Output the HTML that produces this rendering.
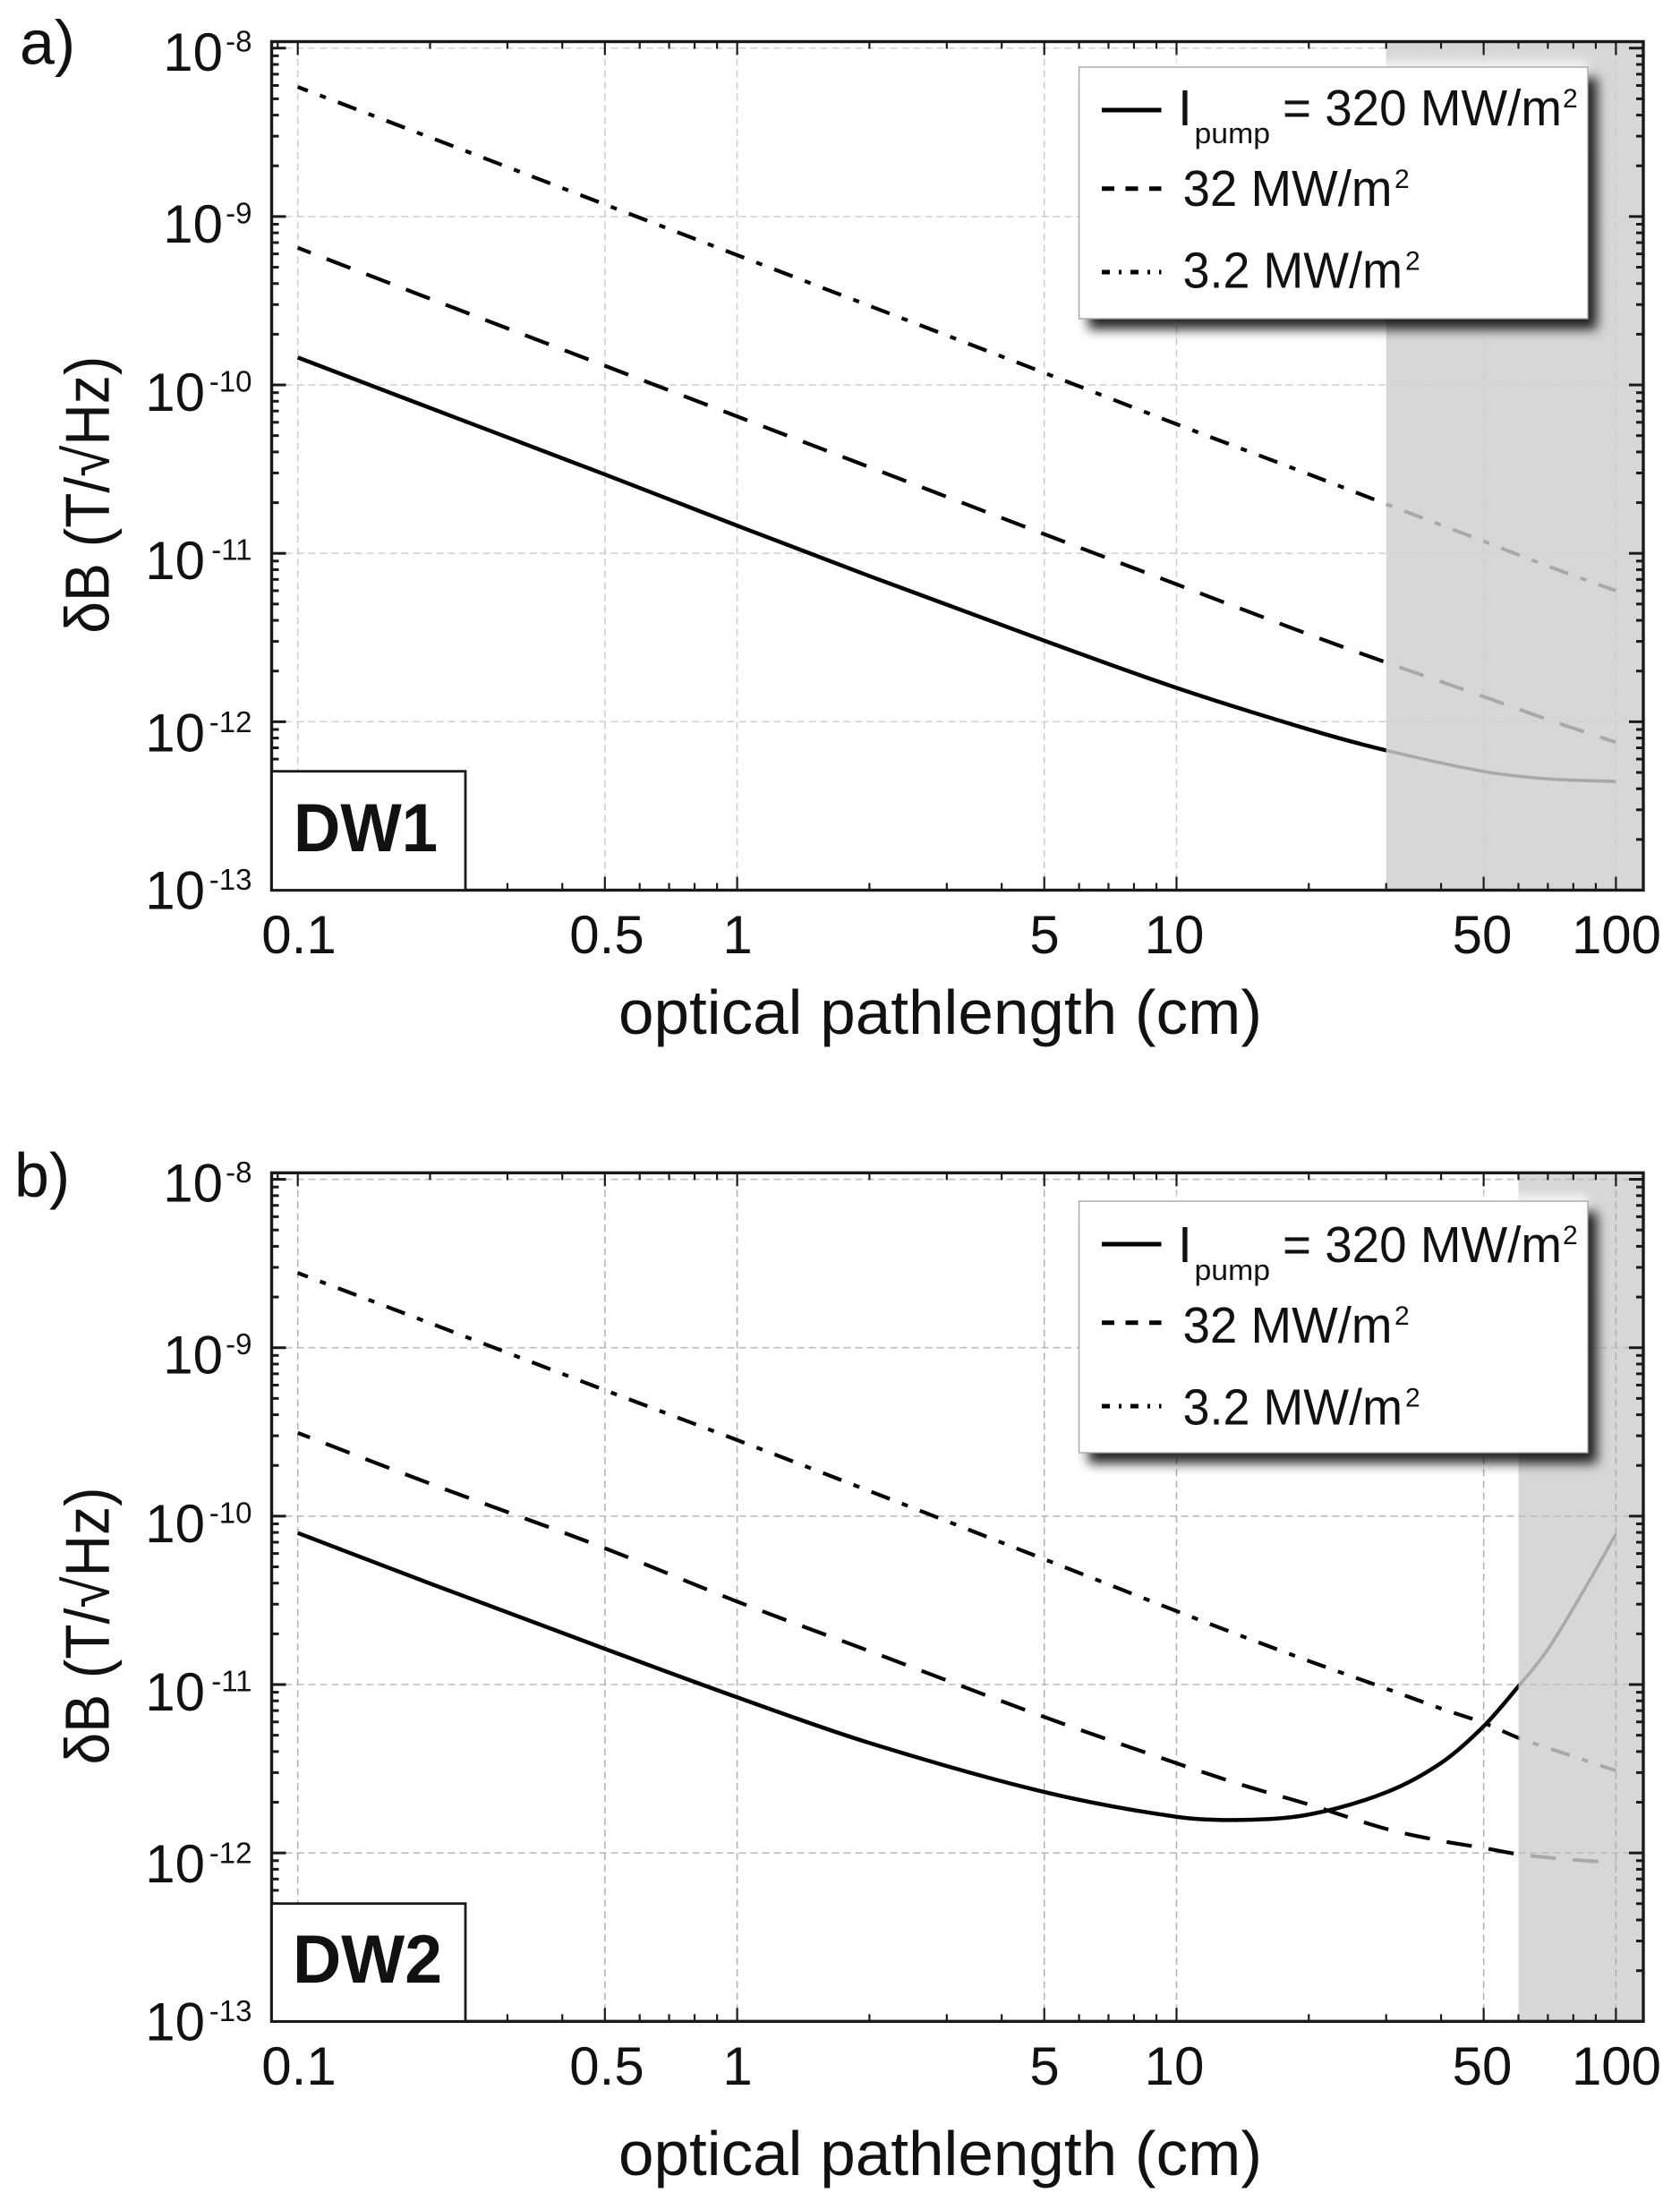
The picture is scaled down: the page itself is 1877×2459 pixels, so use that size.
<!DOCTYPE html>
<html>
<head>
<meta charset="utf-8">
<title>Magnetic sensitivity vs optical pathlength</title>
<style>
html,body{margin:0;padding:0;background:#fff;}
svg{display:block;}
text{font-family:"Liberation Sans","DejaVu Sans",sans-serif;fill:#111;}
</style>
</head>
<body>
<svg id="figure" xmlns="http://www.w3.org/2000/svg" width="1877" height="2459" viewBox="0 0 1877 2459">
  <defs>
    <filter id="legendShadow" x="-15%" y="-20%" width="130%" height="145%">
      <feGaussianBlur stdDeviation="6.5"/>
    </filter>
    <filter id="legendGlow" x="-10%" y="-20%" width="120%" height="140%">
      <feGaussianBlur stdDeviation="5"/>
    </filter>
  </defs>
</svg>
<script>
// ---- Chart data ----
const xTickValues = [0.1, 0.5, 1, 5, 10, 50, 100];
const xTickLabels = ["0.1", "0.5", "1", "5", "10", "50", "100"];
const yTickExponents = [-8, -9, -10, -11, -12, -13];

const pathlengthA = [0.1, 0.2, 0.5, 1, 2, 5, 10, 20, 30, 50, 70, 100];
const dw1Pump320 = [1.455e-10, 7.3e-11, 2.94e-11, 1.46e-11, 7.33e-12, 3.03e-12, 1.59e-12, 9.0e-13, 6.76e-13, 5.07e-13, 4.58e-13, 4.42e-13];
const dw1Pump32 = [6.52e-10, 3.25e-10, 1.3e-10, 6.5e-11, 3.25e-11, 1.3e-11, 6.55e-12, 3.3e-12, 2.25e-12, 1.41e-12, 1.03e-12, 7.55e-13];
const dw1Pump3p2 = [5.88e-9, 2.95e-9, 1.18e-9, 5.9e-10, 2.95e-10, 1.18e-10, 5.85e-11, 2.95e-11, 1.96e-11, 1.18e-11, 8.4e-12, 6.0e-12];
const dw1BandStart = 30;

const pathlengthB = [0.1, 0.2, 0.5, 1, 2, 5, 10, 14, 20, 30, 40, 50, 60, 70, 85, 100];
const dw2Pump320 = [7.94e-11, 3.98e-11, 1.63e-11, 8.4e-12, 4.5e-12, 2.3e-12, 1.64e-12, 1.57e-12, 1.69e-12, 2.29e-12, 3.42e-12, 5.65e-12, 9.77e-12, 1.62e-11, 3.72e-11, 7.84e-11];
const dw2Pump32 = [3.12e-10, 1.56e-10, 6.45e-11, 3.11e-11, 1.58e-11, 6.42e-12, 3.41e-12, 2.55e-12, 1.94e-12, 1.39e-12, 1.18e-12, 1.07e-12, 9.82e-13, 9.4e-13, 9.0e-13, 8.76e-13];
const dw2Pump3p2 = [2.78e-9, 1.4e-9, 5.6e-10, 2.83e-10, 1.41e-10, 5.55e-11, 2.73e-11, 1.95e-11, 1.38e-11, 9.46e-12, 7.2e-12, 5.92e-12, 4.82e-12, 4.2e-12, 3.55e-12, 3.08e-12];
const dw2BandStart = 60;

// ---- Layout ----
const NS = "http://www.w3.org/2000/svg";
const svg = document.getElementById("figure");
const LEFT = 303.5, RIGHT = 1836;
const X_AT_01 = 332.7, X_DECADE = 490.9;
const Y_DECADE = 188.15;

function xScale(v) { return X_AT_01 + (Math.log10(v) + 1) * X_DECADE; }

function node(parent, tag, attrs) {
  const el = document.createElementNS(NS, tag);
  for (const k in attrs) el.setAttribute(k, attrs[k]);
  parent.appendChild(el);
  return el;
}
function label(parent, name, x, y, str, size, opts) {
  const el = document.createElementNS(NS, "text");
  
  
  el.setAttribute("x", x);
  el.setAttribute("y", y);
  el.setAttribute("font-size", size);
  const o = opts || {};
  if (o.anchor) el.setAttribute("text-anchor", o.anchor);
  if (o.bold) el.setAttribute("font-weight", "bold");
  if (o.len) { el.setAttribute("textLength", o.len); el.setAttribute("lengthAdjust", "spacingAndGlyphs"); }
  if (o.transform) el.setAttribute("transform", o.transform);
  el.textContent = str;
  parent.appendChild(el);
  return el;
}
function segment(parent, name, x1, y1, x2, y2, color, width, dash) {
  const el = document.createElementNS(NS, "line");
  
  
  el.setAttribute("x1", x1); el.setAttribute("y1", y1);
  el.setAttribute("x2", x2); el.setAttribute("y2", y2);
  el.setAttribute("stroke", color);
  el.setAttribute("stroke-width", width);
  if (dash) el.setAttribute("stroke-dasharray", dash);
  parent.appendChild(el);
  return el;
}
// Smooth curve in log-log pixel space, through the data points
function curvePath(xs, ys, xf, yf) {
  const px = xs.map(xf), py = ys.map(yf), n = px.length;
  const m = px.map(function (_, i) {
    if (i === 0) return (py[1] - py[0]) / (px[1] - px[0]);
    if (i === n - 1) return (py[n - 1] - py[n - 2]) / (px[n - 1] - px[n - 2]);
    return (py[i + 1] - py[i - 1]) / (px[i + 1] - px[i - 1]);
  });
  let d = "M" + px[0].toFixed(2) + " " + py[0].toFixed(2);
  for (let i = 0; i < n - 1; i++) {
    const h = (px[i + 1] - px[i]) / 3;
    d += "C" + (px[i] + h).toFixed(2) + " " + (py[i] + m[i] * h).toFixed(2) + " " +
      (px[i + 1] - h).toFixed(2) + " " + (py[i + 1] - m[i + 1] * h).toFixed(2) + " " +
      px[i + 1].toFixed(2) + " " + py[i + 1].toFixed(2);
  }
  return d;
}
function labelDrop(exp) {
  if (exp === -8) return 25;
  if (exp === -12) return 33;
  if (exp === -13) return 21;
  return 29;
}

function drawPanel(cfg) {
  const g = node(svg, "g", {});
  
  
  const off = cfg.offset;
  const TOP = 46.5 + off, BOTTOM = 994.5 + off;
  const yScale = function (v) { return BOTTOM - (Math.log10(v) + 13) * Y_DECADE; };
  const bandX = xScale(cfg.band);

  // excluded region band
  const band = node(g, "rect", { x: bandX, y: TOP, width: RIGHT - bandX, height: BOTTOM - TOP, fill: "#d7d7d7" });
  
  

  // grid
  yTickExponents.forEach(function (e) {
    if (e === -13) return;
    const y = yScale(Math.pow(10, e));
    segment(g, "y-gridline", LEFT + 15, y, RIGHT - 15, y, cfg.gridH, 1.6, "8 5");
  });
  xTickValues.forEach(function (v) {
    const x = xScale(v);
    segment(g, "x-gridline", x, TOP + 6, x, BOTTOM - 6, cfg.gridV, 1.5, "8 5");
  });

  // clips
  const clipA = cfg.id + "-clip-in", clipB = cfg.id + "-clip-out";
  const c1 = node(svg.querySelector("defs"), "clipPath", { id: clipA });
  node(c1, "rect", { x: LEFT, y: TOP, width: bandX - LEFT, height: BOTTOM - TOP });
  const c2 = node(svg.querySelector("defs"), "clipPath", { id: clipB });
  node(c2, "rect", { x: bandX, y: TOP, width: RIGHT - bandX, height: BOTTOM - TOP });

  // series
  cfg.series.forEach(function (s) {
    const d = curvePath(cfg.x, s.values, xScale, yScale);
    const dark = node(g, "path", { d: d, fill: "none", stroke: "#030303", "stroke-width": s.dash ? 4.2 : 4.5, "clip-path": "url(#" + clipA + ")" });
    
    
    const light = node(g, "path", { d: d, fill: "none", stroke: "#a9a9a9", "stroke-width": s.dash ? 4 : 3.6, "clip-path": "url(#" + clipB + ")" });
    
    
    if (s.dash) {
      [dark, light].forEach(function (p) {
        p.setAttribute("stroke-dasharray", s.dash);
        p.setAttribute("stroke-dashoffset", s.phase);
      });
    }
  });

  // y ticks
  for (let e = -13; e <= -8; e++) {
    for (let m = 1; m <= 9; m++) {
      if (e === -8 && m > 1) break;
      if (e === -13 && m === 1) continue;
      const y = yScale(m * Math.pow(10, e));
      const len = m === 1 ? 16 : 8;
      segment(g, "y-tick-left", LEFT, y, LEFT + len, y, "#1a1a1a", 3);
      segment(g, "y-tick-right", RIGHT, y, RIGHT - len, y, "#1a1a1a", 3);
    }
  }
  // x ticks
  const xMinor = [0.09];
  [0.1, 1, 10].forEach(function (d) {
    for (let m = 1; m <= 9; m++) xMinor.push(d * m);
  });
  xMinor.push(100);
  xMinor.forEach(function (v) {
    const major = xTickValues.some(function (t) { return Math.abs(t - v) < 1e-6; });
    const len = major ? 15 : 8;
    const x = xScale(v);
    segment(g, "x-tick-top", x, TOP, x, TOP + len, "#1a1a1a", 2.2);
    segment(g, "x-tick-bottom", x, BOTTOM, x, BOTTOM - len, "#1a1a1a", 2.2);
  });

  // frame
  const frame = node(g, "rect", { x: LEFT, y: TOP, width: RIGHT - LEFT, height: BOTTOM - TOP, fill: "none", stroke: "#1a1a1a", "stroke-width": 3.4 });
  
  

  // tick labels
  yTickExponents.forEach(function (e) {
    const base = yScale(Math.pow(10, e)) + labelDrop(e);
    const twoDigit = e <= -10;
    label(g, "y-tick-label-base", twoDigit ? 229 : 249, base, "10", 60, { anchor: "end" });
    label(g, "y-tick-label-exponent", 281.5, base - 21.5, String(e), 33, { anchor: "end" });
  });
  xTickValues.forEach(function (v, i) {
    const centers = { "0.1": 334, "0.5": 678, "1": 824, "5": 1167, "10": 1312, "50": 1656, "100": 1806 };
    label(g, "x-tick-label", centers[xTickLabels[i]], 1065 + off, xTickLabels[i], 60, { anchor: "middle" });
  });

  // axis titles
  label(g, "x-axis-title", 691, cfg.xTitleY, "optical pathlength (cm)", 70, { len: 719 });
  label(g, "y-axis-title", 0, 0, "\u03B4B (T/\u221AHz)", 70, { len: 310, transform: "translate(121.7 " + (707.7 + off) + ") rotate(-90)" });

  // panel letter
  label(g, cfg.id + "-panel-letter", cfg.letterX, cfg.letterY, cfg.letter, 70, {});

  // legend
  const ldy = cfg.legendOffset;
  const tdy = ldy + cfg.legendTextShift;
  const lg = node(g, "g", {});
  
  
  const glow = node(lg, "rect", { x: 1205.6, y: 68 + ldy, width: 568.4, height: 100, fill: "#fff", "fill-opacity": 0.75, filter: "url(#legendGlow)" });
  
  
  const shadow = node(lg, "rect", { x: 1216, y: 87 + ldy, width: 568.4, height: 281, fill: "#000", "fill-opacity": 0.85, filter: "url(#legendShadow)" });
  
  
  const box = node(lg, "rect", { x: 1205.6, y: 75 + ldy, width: 568.4, height: 281, fill: "#fff", stroke: "#a8a8a8", "stroke-width": 1.4 });
  
  
  segment(lg, "legend-swatch-solid", 1231, 123 + ldy, 1297.5, 123 + ldy, "#000", 5);
  segment(lg, "legend-swatch-dashed", 1231, 210.7 + ldy, 1297.5, 210.7 + ldy, "#000", 5, "14 12.5");
  segment(lg, "legend-swatch-dotdash", 1231, 304 + ldy, 1297.5, 304 + ldy, "#000", 5, "9 10 3 10");
  label(lg, "legend-label-i", 1316, 140 + tdy, "I", 57, {});
  label(lg, "legend-label-pump-subscript", 1334.5, 160 + tdy, "pump", 32, { len: 84.5 });
  label(lg, "legend-label-320", 1433, 140 + tdy, "= 320 MW/m", 57, { len: 312 });
  label(lg, "legend-label-320-exponent", 1746, 120 + tdy, "2", 30, {});
  label(lg, "legend-label-32", 1321.5, 230 + tdy, "32 MW/m", 57, { len: 234 });
  label(lg, "legend-label-32-exponent", 1558, 210 + tdy, "2", 30, {});
  label(lg, "legend-label-3-2", 1321.5, 321.7 + tdy, "3.2 MW/m", 57, { len: 245.5 });
  label(lg, "legend-label-3-2-exponent", 1570, 301.7 + tdy, "2", 30, {});

  // sample tag
  const tag = node(g, "rect", { x: LEFT, y: cfg.tagTop, width: 520 - LEFT, height: BOTTOM - cfg.tagTop, fill: "#fff", stroke: "#1a1a1a", "stroke-width": 2.8 });
  
  
  label(g, cfg.id + "-tag-label", cfg.tagX, cfg.tagY, cfg.tag, 76, { bold: true, len: cfg.tagLen });
}

const DASH = "28.5 19";
const DOTDASH = "22 14.5 7 14.5";

drawPanel({
  id: "dw1", offset: 0, band: dw1BandStart, x: pathlengthA,
  letter: "a)", letterX: 22, letterY: 71.7, xTitleY: 1155, legendOffset: 0, legendTextShift: 0,
  gridH: "#d2d2d2", gridV: "#cdcdcd",
  tag: "DW1", tagTop: 861.7, tagX: 328, tagY: 951, tagLen: 161,
  series: [
    { name: "curve-320-mw", values: dw1Pump320 },
    { name: "curve-32-mw", values: dw1Pump32, dash: DASH, phase: 13 },
    { name: "curve-3-2-mw", values: dw1Pump3p2, dash: DOTDASH, phase: 10 }
  ]
});
drawPanel({
  id: "dw2", offset: 1263.8, band: dw2BandStart, x: pathlengthB,
  letter: "b)", letterX: 16, letterY: 1337, xTitleY: 2430, legendOffset: 1267, legendTextShift: 3,
  gridH: "#bdbdbd", gridV: "#b0b0b0",
  tag: "DW2", tagTop: 2126.7, tagX: 327, tagY: 2215, tagLen: 167,
  series: [
    { name: "curve-320-mw", values: dw2Pump320 },
    { name: "curve-32-mw", values: dw2Pump32, dash: DASH, phase: 14 },
    { name: "curve-3-2-mw", values: dw2Pump3p2, dash: DOTDASH, phase: 10 }
  ]
});
</script>
</body>
</html>
